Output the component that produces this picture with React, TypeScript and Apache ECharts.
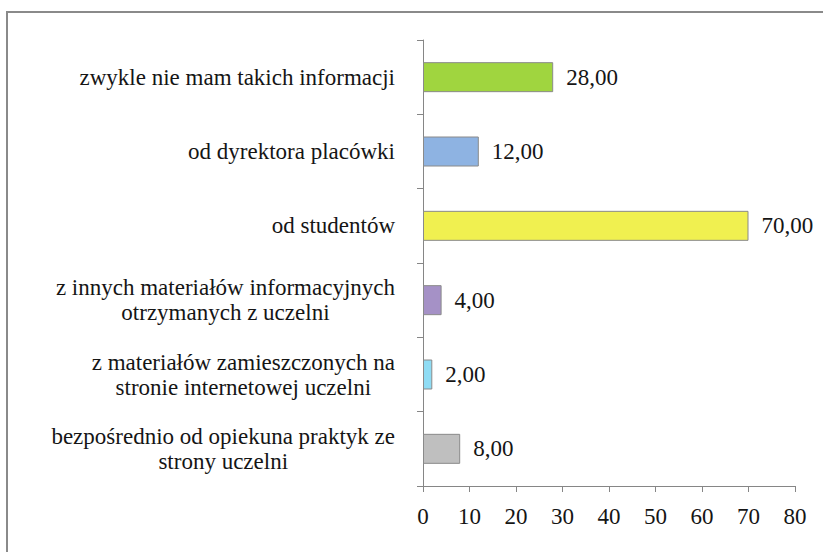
import React, { useEffect, useRef } from "react";
import * as echarts from "echarts";

// bottom-to-top order (ECharts category y axis starts at the bottom)
const categories = [
  "bezpośrednio od opiekuna praktyk ze\nstrony uczelni",
  "z materiałów zamieszczonych na\nstronie internetowej uczelni",
  "z innych materiałów informacyjnych\notrzymanych z uczelni",
  "od studentów",
  "od dyrektora placówki",
  "zwykle nie mam takich informacji",
];
const values = [8, 2, 4, 70, 12, 28];
const barColors = ["#BFBFBF", "#8FDCF4", "#A591C6", "#F0F050", "#8EB3E2", "#A0D53F"];
const xTicks = { min: 0, max: 80, interval: 10 };

const FONT = "Liberation Serif";
const FS = 23;

export default function App() {
  const ref = useRef<HTMLDivElement>(null);
  useEffect(() => {
    if (!ref.current) return;
    const chart = echarts.init(ref.current, undefined, { renderer: "svg" });
    chart.setOption({
      animation: false,
      backgroundColor: "#fff",
      textStyle: { fontFamily: FONT },
      graphic: [
        {
          type: "rect",
          shape: { x: 7, y: 12, width: 840, height: 570 },
          style: { fill: "none", stroke: "#8a8a8a", lineWidth: 2 },
          silent: true,
        },
      ],
      grid: { left: 423, top: 40, right: 28, bottom: 66, containLabel: false },
      xAxis: {
        type: "value",
        min: xTicks.min,
        max: xTicks.max,
        interval: xTicks.interval,
        splitLine: { show: false },
        axisLine: { show: true, lineStyle: { color: "#868686", width: 1 } },
        axisTick: { show: true, length: 6, lineStyle: { color: "#868686" } },
        axisLabel: {
          margin: 19,
          fontFamily: FONT,
          fontSize: FS,
          color: "#151515",
        },
      },
      yAxis: {
        type: "category",
        data: categories,
        axisLine: { show: true, lineStyle: { color: "#868686", width: 1 } },
        axisTick: { show: true, length: 6, alignWithLabel: false, lineStyle: { color: "#868686" } },
        axisLabel: {
          margin: 28,
          align: "right",
          fontFamily: FONT,
          fontSize: FS,
          lineHeight: 25,
          color: "#151515",
          formatter: (v: string) =>
            v
              .split("\n")
              .map((l) => `{c|${l}}`)
              .join("\n"),
          rich: {
            c: {
              align: "center",
              fontFamily: FONT,
              fontSize: FS,
              lineHeight: 25,
              color: "#151515",
            },
          },
        },
      },
      series: [
        {
          type: "bar",
          barWidth: 30,
          data: values.map((v, i) => ({
            value: v,
            itemStyle: { color: barColors[i], borderColor: "#8a8a8a", borderWidth: 1 },
          })),
          label: {
            show: true,
            position: "right",
            distance: 13,
            fontFamily: FONT,
            fontSize: FS,
            color: "#151515",
            formatter: (p: any) => Number(p.value).toFixed(2).replace(".", ","),
          },
        },
      ],
    });
    return () => chart.dispose();
  }, []);
  return (
    <div
      ref={ref}
      style={{ position: "absolute", left: 0, top: 0, width: 823, height: 552 }}
    />
  );
}
